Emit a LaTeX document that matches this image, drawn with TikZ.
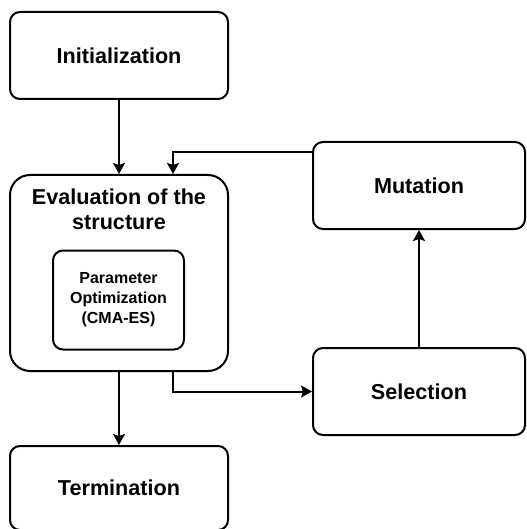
\documentclass[tikz,border=0pt]{standalone}
\usepackage{fontspec}
\setmainfont{Liberation Sans}
\usetikzlibrary{arrows.meta,calc}

\tikzset{
    stage/.style={draw, line width=1pt, rounded corners=5pt, inner sep=0pt,
        minimum width=109pt, minimum height=43.5pt, align=center,
        font=\bfseries\fontsize{10.8}{12.5}\selectfont},
    arr/.style={-{Stealth[length=5.5pt,width=6pt,inset=1pt]}, line width=1pt},
}

\begin{document}
\begin{tikzpicture}[x=0.5pt, y=-0.5pt]
    \useasboundingbox (0,0) rectangle (526,529);
    \clip (0,0) rectangle (526,529);
    \node[stage] (init) at (119,55.5) {Initialization};
    \node[stage, rounded corners=10pt, minimum height=98pt] (eval) at (119,273) {};
    \node[font=\bfseries\fontsize{10.8}{12.5}\selectfont, align=center] (evaltitle) at (119,209.5) {Evaluation of the\\structure};
    \node[stage, minimum width=65.5pt, minimum height=49.5pt,
        font=\bfseries\fontsize{8}{10}\selectfont] (param) at (118.5,300) {Parameter\\Optimization\\(CMA-ES)};
    \node[stage, minimum width=106pt] (mut) at (419,185.5) {Mutation};
    \node[stage, minimum width=106pt] (sel) at (419,391.5) {Selection};
    \node[stage, minimum height=42pt] (term) at (119,488) {Termination};

    \coordinate (evin) at ($(eval.north)+(54,0)$);
    \coordinate (evout) at ($(eval.south)+(54,0)$);
    \coordinate (mutout) at ($(mut.north west)+(0,11)$);

    \draw[arr] (init) -- (eval);
    \draw[arr] (mutout) -| (evin);
    \draw[arr] (evout) |- (sel.west);
    \draw[arr] (sel) -- (mut);
    \draw[arr] (eval) -- (term);
\end{tikzpicture}
\end{document}
